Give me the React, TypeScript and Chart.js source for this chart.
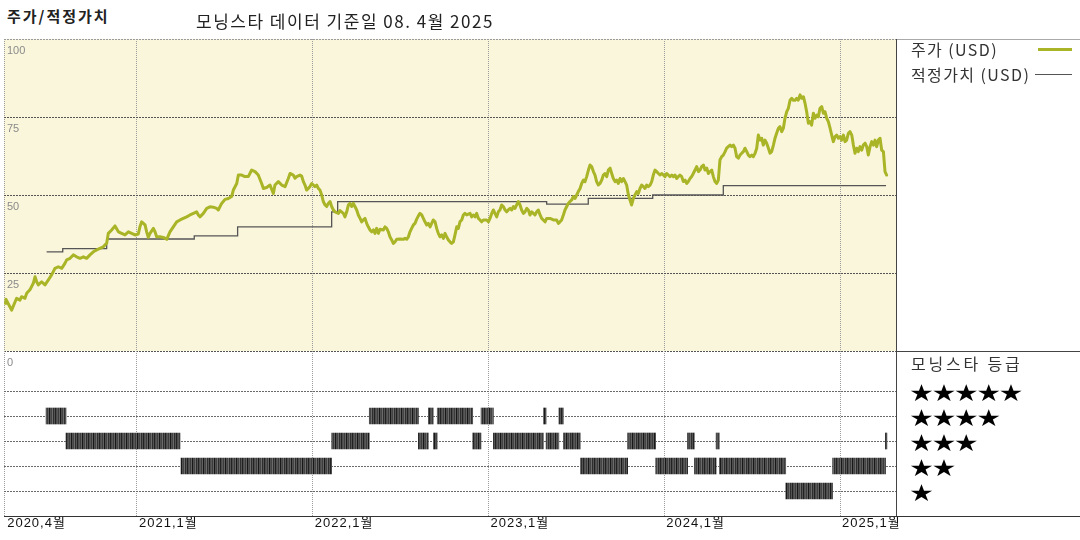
import React, { useEffect, useRef } from "react";
import { Chart, registerables } from "chart.js";
Chart.register(...registerables);

// x axis unit: months since 2020-04-01
const X_MIN = -0.08;
const X_MAX = 60.82;
const xTickMonths = [0, 9, 21, 33, 45, 57];
const xTickLabels = ["2020,4월", "2021,1월", "2022,1월", "2023,1월", "2024,1월", "2025,1월"];
const priceTicks = [0, 25, 50, 75, 100];
const ratingRows = [1, 2, 3, 4, 5];

const priceMonths = [
  0.0, 0.05, 0.44, 0.78, 1.01, 1.12, 1.35, 1.47, 1.69, 1.92, 2.04, 2.15, 2.26, 2.49, 2.72, 2.95, 3.17, 3.4, 3.63, 3.86,
  4.08, 4.2, 4.43, 4.65, 4.88, 5.11, 5.34, 5.56, 5.79, 6.02, 6.25, 6.47, 6.7, 6.81, 6.93, 7.04, 7.27, 7.5, 7.73, 7.95,
  8.18, 8.41, 8.64, 8.86, 9.09, 9.2, 9.32, 9.55, 9.66, 9.77, 9.89, 10.12, 10.23, 10.34, 10.57, 10.8, 11.03, 11.25, 11.48, 11.71,
  11.94, 12.16, 12.39, 12.62, 12.85, 13.07, 13.19, 13.3, 13.53, 13.76, 13.98, 14.21, 14.44, 14.55, 14.78, 15.01, 15.24, 15.46, 15.58, 15.81,
  15.92, 16.15, 16.37, 16.6, 16.83, 17.06, 17.28, 17.51, 17.63, 17.85, 18.08, 18.31, 18.42, 18.65, 18.88, 19.11, 19.33,
  19.45, 19.67, 19.79, 19.9, 20.13, 20.24, 20.36, 20.47, 20.58, 20.7, 20.81, 20.93, 21.04, 21.15, 21.27, 21.38, 21.49, 21.61, 21.72, 21.84,
  21.95, 22.06, 22.18, 22.29, 22.41, 22.52, 22.75, 22.86, 23.09, 23.2, 23.32, 23.43, 23.54, 23.66, 23.77, 23.88, 24.0, 24.11, 24.23, 24.34,
  24.45, 24.57, 24.68, 24.79, 24.91, 25.02, 25.14, 25.25, 25.36, 25.48, 25.59, 25.82, 25.93, 26.05, 26.16, 26.27, 26.39, 26.5, 26.62, 26.73,
  26.96, 27.18, 27.3, 27.41, 27.53, 27.64, 27.75, 27.87, 27.98, 28.09, 28.21, 28.32, 28.44, 28.55, 28.66, 28.78, 28.89, 29.01, 29.12, 29.23,
  29.35, 29.46, 29.57, 29.69, 29.8, 29.92, 30.03, 30.14, 30.26, 30.37, 30.48, 30.6, 30.71, 30.83, 30.94, 31.05, 31.17, 31.28, 31.39, 31.51,
  31.74, 31.85, 31.96, 32.08, 32.19, 32.31, 32.42, 32.53, 32.65, 32.87, 32.99, 33.1, 33.22, 33.33, 33.44, 33.56, 33.67, 33.78, 33.9, 34.01,
  34.13, 34.24, 34.35, 34.47, 34.58, 34.7, 34.81, 34.92, 35.04, 35.15, 35.26, 35.38, 35.49, 35.61, 35.72, 35.83, 35.95, 36.06, 36.17, 36.29,
  36.4, 36.52, 36.63, 36.74, 36.86, 36.97, 37.2, 37.43, 37.65, 37.77, 37.88, 37.99, 38.11, 38.22, 38.34, 38.45, 38.56, 38.68, 38.79, 38.91,
  39.02, 39.13, 39.25, 39.36, 39.48, 39.59, 39.7, 39.82,
  39.93, 40.04, 40.16, 40.27, 40.38, 40.5, 40.61, 40.73, 40.84, 40.95, 41.07, 41.18, 41.3, 41.41, 41.52, 41.64, 41.75, 41.86, 41.98, 42.09,
  42.21, 42.32, 42.43, 42.55, 42.66, 42.77, 42.89, 43.0, 43.12, 43.23, 43.34, 43.46, 43.57, 43.68, 43.8, 43.91, 44.03, 44.14, 44.25, 44.37,
  44.48, 44.6, 44.71, 44.82, 44.94, 45.05, 45.16, 45.28, 45.39, 45.51, 45.62, 45.73, 45.85, 45.96, 46.07, 46.19, 46.3, 46.42, 46.53, 46.64,
  46.76, 46.87, 46.98, 47.1, 47.21, 47.33, 47.44, 47.55, 47.67, 47.78, 47.9, 48.01, 48.12, 48.24, 48.35, 48.46, 48.58, 48.69, 48.8, 48.92,
  49.03, 49.15, 49.26, 49.37, 49.49, 49.6, 49.72, 49.83, 49.94, 50.06, 50.17, 50.29, 50.4, 50.51, 50.63, 50.74, 50.85, 50.97, 51.08, 51.2,
  51.31, 51.42, 51.54, 51.65, 51.76, 51.88, 51.99, 52.11, 52.22, 52.33, 52.45, 52.56, 52.67, 52.79, 52.9, 53.02, 53.13, 53.24, 53.36, 53.47,
  53.59, 53.7, 53.81, 53.93, 54.04, 54.15, 54.27, 54.38, 54.5, 54.61, 54.72, 54.84, 54.95, 55.06, 55.18, 55.29, 55.41, 55.52, 55.63, 55.75,
  55.86, 55.97, 56.09, 56.2, 56.32, 56.43, 56.54, 56.66, 56.77, 56.89, 57.0, 57.11, 57.23, 57.34, 57.45, 57.57, 57.68, 57.8, 57.91, 58.02,
  58.14, 58.25, 58.36, 58.48, 58.59, 58.71, 58.82, 58.93, 59.05, 59.16, 59.28, 59.39, 59.5, 59.62, 59.73, 59.84, 59.96, 60.07, 60.18,
];
const priceValues = [
  15.3, 16.6, 13.1, 16.9, 16.3, 17.4, 16.9, 18.5, 19.6, 21.7, 23.8, 22.2, 21.2, 22.2, 21.2, 22.8, 24.4, 26.5, 27.0, 26.5,
  28.1, 29.2, 29.7, 30.8, 30.2, 29.7, 30.2, 29.7, 30.8, 31.8, 32.4, 32.9, 33.4, 34.0, 34.5, 37.7, 38.8, 40.1, 38.2, 37.7,
  37.2, 38.2, 37.7, 37.2, 37.5, 39.8, 41.4, 40.4, 38.2, 36.4, 37.7, 39.3, 38.2, 36.6, 36.6, 36.4, 35.8, 38.2, 39.8, 41.4,
  42.0, 42.5, 43.0, 43.6, 44.1, 44.6, 43.6, 43.0, 44.1, 45.7, 46.2, 46.1, 45.7, 45.2, 47.3, 48.6, 48.9, 49.5, 51.6, 53.7,
  56.4, 56.4, 55.9, 55.9, 58.0, 57.5, 56.4, 53.7, 52.1, 52.4, 53.2, 50.5, 53.2, 54.3, 53.2, 52.7, 55.3,
  56.9, 56.4, 55.4, 55.9, 56.4, 56.1, 54.3, 53.2, 51.6, 52.1, 52.7, 53.7, 53.2, 52.7, 53.2, 52.1, 51.6, 50.0, 47.9, 46.8,
  46.3, 47.3, 47.9, 46.3, 45.2, 44.6, 44.1, 45.0, 44.1, 43.0, 44.6, 46.8, 47.3, 46.3, 47.3, 46.3, 45.2, 43.6, 42.5, 41.4,
  42.0, 42.5, 40.9, 39.8, 38.8, 38.2, 38.8, 37.7, 39.3, 37.7, 39.0, 38.8, 39.8, 39.3, 38.2, 36.6, 35.6, 34.5, 35.0, 35.8,
  35.9, 35.8, 36.1, 35.8, 36.6, 38.2, 39.3, 40.4, 40.9, 42.2, 43.3, 44.1, 43.6, 42.5, 41.4, 40.4, 40.9, 39.8, 40.9, 42.0,
  41.4, 39.3, 37.7, 36.6, 37.2, 36.1, 37.7, 36.6, 35.6, 35.0, 34.5, 35.0, 37.2, 39.8, 39.3, 41.4, 42.0, 43.6, 44.1, 43.6,
  44.1, 43.0, 43.6, 43.0, 44.1, 42.5, 42.0, 41.4, 42.0, 42.0, 41.4, 42.5, 44.1, 45.2, 44.1, 43.0, 44.6, 45.2, 46.8, 46.3,
  45.2, 44.6, 45.2, 45.7, 45.2, 46.3, 45.7, 46.8, 47.9, 46.8, 45.2, 44.1, 44.6, 45.7, 45.2, 43.6, 44.6, 44.1, 43.6, 44.6,
  45.2, 43.6, 42.5, 42.0, 41.4, 42.5, 42.5, 42.0, 42.0, 40.9, 41.4, 42.0, 43.6, 45.2, 46.3, 47.3, 47.9, 48.4, 49.5, 48.9,
  50.0, 51.1, 52.1, 53.7, 54.8, 54.3, 55.9, 58.0,
  59.6, 59.1, 57.5, 56.4, 54.3, 53.2, 53.7, 54.8, 56.4, 56.9, 55.9, 58.0, 58.6, 56.9, 55.3, 54.3, 54.8, 53.7, 55.3, 54.3,
  55.3, 54.3, 53.2, 50.0, 48.4, 46.8, 48.9, 50.0, 51.1, 50.5, 52.1, 53.2, 52.7, 52.1, 53.2, 52.7, 53.2, 54.3, 56.4, 58.0,
  57.5, 56.9, 56.4, 56.9, 56.4, 55.9, 56.9, 56.4, 55.9, 56.4, 55.9, 56.4, 55.3, 55.9, 56.4, 55.9, 54.3, 54.8, 53.7, 54.3,
  55.3, 55.9, 56.9, 58.0, 59.1, 57.5, 58.0, 59.1, 59.6, 58.0, 58.6, 56.9, 57.5, 58.0, 55.9, 54.3, 53.7, 54.8, 61.2, 62.3,
  62.8, 63.9, 65.0, 65.5, 66.0, 65.5, 66.0, 65.0, 62.3, 61.8, 62.8, 63.4, 63.9, 65.0, 63.9, 62.8, 62.3, 62.8, 62.3, 63.4,
  65.0, 69.2, 67.6, 68.2, 66.0, 67.6, 66.6, 65.0, 63.4, 63.9, 66.0, 68.2, 69.8, 71.4, 71.9, 70.3, 71.4, 74.6, 76.7, 77.8,
  80.4, 81.0, 80.4, 80.4, 81.0, 80.4, 82.1, 81.0, 81.5, 79.4, 76.7, 73.0, 73.5, 72.4, 76.2, 74.6, 75.6, 75.1, 77.8, 78.3,
  76.2, 76.7, 74.6, 73.5, 71.4, 69.2, 67.1, 68.7, 69.2, 68.2, 68.7, 67.6, 69.2, 67.1, 67.6, 69.8, 70.3, 69.2, 66.0, 63.4,
  65.0, 63.9, 65.5, 64.4, 66.0, 66.6, 65.5, 62.8, 65.5, 67.1, 66.0, 67.6, 65.5, 67.6, 68.2, 64.4, 63.9, 57.5, 56.4,
];

const fairMonths = [2.83, 3.93, 6.93, 12.91, 15.87, 22.29, 22.7, 36.97, 39.81, 44.21, 49.03, 60.14];
const fairValues = [31.8, 32.8, 35.9, 36.9, 39.8, 44.6, 47.9, 47.1, 48.9, 50.0, 53.0, 53.0];

const ratingStarts = [2.79, 4.15, 12.0, 22.29, 24.86, 28.21, 28.89, 29.23, 29.5, 31.92, 32.49, 33.33, 36.75, 36.93, 37.8, 38.11, 39.27, 42.5, 44.41, 46.59, 47.05, 48.54, 48.76, 53.29, 56.49, 60.1];
const ratingEnds = [4.15, 11.94, 22.29, 24.86, 28.21, 28.89, 29.23, 29.5, 31.92, 32.49, 33.33, 36.75, 36.93, 37.8, 38.11, 39.27, 42.5, 44.41, 46.59, 47.05, 48.54, 48.76, 53.29, 56.49, 60.1, 60.2];
const ratingLevels = [4, 3, 2, 3, 4, 3, 4, 3, 4, 3, 4, 3, 4, 3, 4, 3, 2, 3, 2, 3, 2, 3, 2, 1, 2, 3];

const PRICE_COLOR = "#a9b526";
const FAIR_COLOR = "#555555";
const PANEL_BG = "#faf6dc";

function makePattern(): CanvasPattern | string {
  const c = document.createElement("canvas");
  c.width = 11;
  c.height = 4;
  const g = c.getContext("2d");
  if (!g) return "#4a4a4a";
  const cols = ["#222222", "#4c4c4c", "#585858", "#3c3c3c", "#626262", "#181818", "#505050", "#444444", "#6c6c6c", "#2e2e2e", "#545454"];
  cols.forEach((col, i) => {
    g.fillStyle = col;
    g.fillRect(i, 0, 1, 4);
  });
  return g.createPattern(c, "repeat") || "#4a4a4a";
}

const xAxis = () => ({
  type: "linear" as const,
  min: X_MIN,
  max: X_MAX,
  offset: false,
  ticks: { display: false },
  afterBuildTicks: (s: any) => {
    const vals = xTickMonths.filter((v) => v > 0);
    s.ticks = [X_MIN, ...vals].map((v) => ({ value: v }));
  },
  grid: { color: "#9c9c9c", drawTicks: false, lineWidth: 1, offset: false },
  border: { display: false, dash: [1, 1] },
});

export default function App() {
  const priceRef = useRef<HTMLCanvasElement>(null);
  const ratingRef = useRef<HTMLCanvasElement>(null);

  useEffect(() => {
    if (!priceRef.current || !ratingRef.current) return;

    const bgPlugin = {
      id: "panelBg",
      beforeDraw(chart: any) {
        const { ctx, chartArea: a } = chart;
        ctx.save();
        ctx.fillStyle = PANEL_BG;
        ctx.fillRect(a.left, a.top, a.right - a.left, a.bottom - a.top);
        ctx.restore();
      },
    };
    const priceLabels = {
      id: "priceLabels",
      afterDraw(chart: any) {
        const { ctx, chartArea: a } = chart;
        const y = chart.scales.y;
        ctx.save();
        ctx.font = '11px "Liberation Sans", Arial, sans-serif';
        ctx.fillStyle = "#8a8a8a";
        ctx.textBaseline = "alphabetic";
        ctx.textAlign = "left";
        priceTicks.forEach((v) => ctx.fillText(String(v), a.left + 3, y.getPixelForValue(v) + 15));
        ctx.restore();
      },
    };
    const dateLabels = {
      id: "dateLabels",
      afterDraw(chart: any) {
        const { ctx, chartArea: a } = chart;
        const x = chart.scales.x;
        ctx.save();
        ctx.font = '13px "Liberation Sans", "Noto Sans CJK KR", sans-serif';
        (ctx as any).letterSpacing = "1px";
        ctx.fillStyle = "#111";
        ctx.textBaseline = "alphabetic";
        ctx.textAlign = "left";
        xTickMonths.forEach((m, i) => ctx.fillText(xTickLabels[i], x.getPixelForValue(m) + 2, a.bottom + 11));
        ctx.restore();
      },
    };

    const price = new Chart(priceRef.current, {
      type: "line",
      data: {
        datasets: [
          {
            label: "주가 (USD)",
            data: priceMonths.map((m, i) => ({ x: m, y: priceValues[i] })),
            borderColor: PRICE_COLOR,
            borderWidth: 3,
            pointRadius: 0,
            tension: 0,
            borderJoinStyle: "round",
            borderCapStyle: "round",
            order: 1,
          },
          {
            label: "적정가치 (USD)",
            data: fairMonths.map((m, i) => ({ x: m, y: fairValues[i] })),
            borderColor: FAIR_COLOR,
            borderWidth: 1.3,
            pointRadius: 0,
            stepped: true,
            order: 2,
          },
        ],
      },
      options: {
        responsive: false,
        animation: false,
        events: [],
        layout: { padding: { left: 4, right: 4, top: 9, bottom: 24 } },
        plugins: { legend: { display: false }, tooltip: { enabled: false } },
        scales: {
          x: xAxis() as any,
          y: {
            min: 0,
            max: 100,
            offset: false,
            ticks: { display: false },
            afterBuildTicks: (s: any) => {
              s.ticks = priceTicks.map((v) => ({ value: v }));
            },
            grid: {
              drawTicks: false,
              offset: false,
              color: (c: any) => (c.tick && c.tick.value === 100 ? "#9a9a9a" : "#555555"),
            },
            border: { display: false, dash: [2, 1] },
          },
        },
      },
      plugins: [bgPlugin, priceLabels],
    });

    const pattern = makePattern();
    const rating = new Chart(ratingRef.current, {
      type: "bar",
      data: {
        datasets: [
          {
            label: "모닝스타 등급",
            data: ratingStarts.map((s, i) => ({ x: [s, ratingEnds[i]], y: ratingLevels[i] })) as any,
            backgroundColor: pattern as any,
            borderWidth: 0,
            barThickness: 16,
          },
        ],
      },
      options: {
        indexAxis: "y",
        responsive: false,
        animation: false,
        events: [],
        layout: { padding: { left: 4, right: 4, top: 6, bottom: 24 } },
        plugins: { legend: { display: false }, tooltip: { enabled: false } },
        scales: {
          x: xAxis() as any,
          y: {
            type: "linear",
            min: 0,
            max: 6.6,
            offset: false,
            ticks: { display: false },
            afterBuildTicks: (s: any) => {
              s.ticks = ratingRows.map((v) => ({ value: v }));
            },
            grid: { drawTicks: false, offset: false, color: "#6a6a6a" },
            border: { display: false, dash: [2, 1] },
          },
        },
      },
      plugins: [dateLabels],
    });

    return () => {
      price.destroy();
      rating.destroy();
    };
  }, []);

  const abs = (l: number, t: number, extra: any = {}) => ({ position: "absolute" as const, left: l, top: t, whiteSpace: "nowrap" as const, ...extra });
  const font = '"Noto Sans CJK KR", "Noto Sans", sans-serif';

  return (
    <div style={{ position: "fixed", left: 0, top: 0, width: 1080, height: 540, background: "#fff", overflow: "hidden", fontFamily: font }}>
      <canvas ref={priceRef} width={900} height={345} style={{ position: "absolute", left: 0, top: 30 }} />
      <canvas ref={ratingRef} width={900} height={195} style={{ position: "absolute", left: 0, top: 345 }} />

      <div style={abs(7, 6, { fontSize: 15, fontWeight: 700, lineHeight: "20px", letterSpacing: 2, color: "#222" })}>주가/적정가치</div>
      <div style={abs(196, 11, { fontSize: 17, lineHeight: "20px", letterSpacing: 1.5, color: "#222" })}>모닝스타 데이터 기준일 08. 4월 2025</div>

      {/* frame lines */}
      <div style={abs(896, 39, { width: 184, height: 1, background: "#aaaaaa" })} />
      <div style={abs(896, 39, { width: 1, height: 478, background: "#444" })} />
      <div style={abs(896, 351, { width: 184, height: 1, background: "#444" })} />
      <div style={abs(4, 516, { width: 1076, height: 1, background: "#333" })} />

      {/* legend */}
      <div style={abs(911, 39, { fontSize: 16, lineHeight: "20px", letterSpacing: 1.4, color: "#333" })}>주가 (USD)</div>
      <div style={abs(1038, 48, { width: 34, height: 3, background: PRICE_COLOR })} />
      <div style={abs(911, 64, { fontSize: 16, lineHeight: "20px", letterSpacing: 1.4, color: "#333" })}>적정가치 (USD)</div>
      <div style={abs(1035, 74, { width: 37, height: 1, background: FAIR_COLOR })} />

      <div style={abs(911, 353, { fontSize: 16, lineHeight: "20px", letterSpacing: 2.8, color: "#333" })}>모닝스타 등급</div>
      {[5, 4, 3, 2, 1].map((n, i) => (
        <div
          key={n}
          style={abs(910, 392 + i * 25 - 15, {
            fontSize: 23,
            lineHeight: "30px",
            letterSpacing: -0.6,
            color: "#000",
            fontFamily: '"Noto Sans CJK KR", sans-serif',
            transform: "scaleY(0.82)",
            transformOrigin: "0 50%",
          })}
        >
          {"★".repeat(n)}
        </div>
      ))}
    </div>
  );
}
